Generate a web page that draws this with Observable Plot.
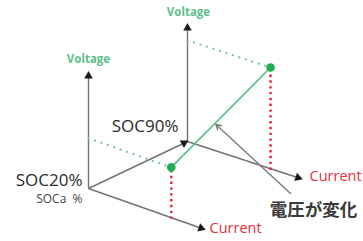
<!DOCTYPE html>
<html><head><meta charset="utf-8">
<script src="https://cdn.jsdelivr.net/npm/d3@7"></script>
<script src="https://cdn.jsdelivr.net/npm/@observablehq/plot@0.6"></script>
<style>html,body{margin:0;padding:0;background:#fff;overflow:hidden}</style>
</head><body><div id="chart"></div>
<script>
// ---- data ----
const socPlanes = ["SOC20%", "SOC90%"];       // front / back planes
const socSubLabel = "SOCa  %";
const currentAt = [0.72, 0.735];              // operating current (fraction of axis)
const voltageAt = [0.437, 0.872];             // resulting voltage (fraction of axis)
const axisNames = ["Voltage", "Current"];
const noteText = "電圧が変化";

// ---- layout (pseudo-3D planes) ----
const planes = [
  {o: [88, 188], u: [115, 40.5], v: [0, -115]},
  {o: [187, 141], u: [113, 37], v: [0, -116]}
];
const P = (i, c, v) => {
  const p = planes[i];
  return {x: p.o[0] + c * p.u[0] + v * p.v[0], y: p.o[1] + c * p.u[1] + v * p.v[1]};
};

const axisSegs = [];
const heads = [];
function addAxis(a, b, rot) {
  axisSegs.push({x1: a.x, y1: a.y, x2: b.x, y2: b.y});
  const dx = b.x - a.x, dy = b.y - a.y, L = Math.hypot(dx, dy);
  const ang = rot ?? (Math.atan2(dy, dx) * 180 / Math.PI + 90);
  heads.push({x: b.x - 2.6 * dx / L, y: b.y - 2.6 * dy / L, rot: ang});
}
planes.forEach((p, i) => {
  addAxis(P(i, 0, 0), P(i, 1, 0));
  addAxis(P(i, 0, 0), P(i, 0, 1));
});
// SOC depth axis
axisSegs.push({x1: planes[0].o[0], y1: planes[0].o[1], x2: planes[1].o[0], y2: planes[1].o[1]});
heads.push({x: planes[1].o[0] - 3.5, y: planes[1].o[1] + 1.5, rot: 180});

const pts = socPlanes.map((s, i) => ({soc: s, ...P(i, currentAt[i], voltageAt[i])}));
const greenDots = socPlanes.map((s, i) => {
  const a = P(i, 0, voltageAt[i]), b = P(i, currentAt[i], voltageAt[i]);
  return {x1: a.x, y1: a.y, x2: b.x, y2: b.y};
});
const redDots = socPlanes.map((s, i) => {
  const a = P(i, currentAt[i], 0), b = P(i, currentAt[i], voltageAt[i]);
  return {x1: a.x, y1: a.y, x2: b.x, y2: b.y};
});
const tip = {x: pts[0].x + 0.45 * (pts[1].x - pts[0].x), y: pts[0].y + 0.45 * (pts[1].y - pts[0].y) + 2};
const pointer = [{x1: 290, y1: 193, x2: tip.x, y2: tip.y}];

const vTop0 = P(0, 0, 1), vTop1 = P(1, 0, 1), cEnd0 = P(0, 1, 0), cEnd1 = P(1, 1, 0);
const greenLabels = [{x: vTop0.x, y: vTop0.y - 14, t: axisNames[0]}, {x: vTop1.x + 1, y: vTop1.y - 13, t: axisNames[0]}];
const redLabels = [{x: cEnd0.x + 6, y: cEnd0.y - 1, t: axisNames[1]}, {x: cEnd1.x + 9, y: cEnd1.y - 2, t: axisNames[1]}];
const socLabels = [
  {x: 82, y: 180.5, t: socPlanes[0]},
  {x: 178, y: 126, t: socPlanes[1]}
];

const grey = "#727272";
const chart = Plot.plot({
  width: 363, height: 241, margin: 0,
  x: {domain: [0, 363], axis: null},
  y: {domain: [241, 0], axis: null},
  style: {background: "#fff", fontFamily: "'Open Sans', sans-serif", overflow: "visible"},
  marks: [
    Plot.link(axisSegs, {x1: "x1", y1: "y1", x2: "x2", y2: "y2", stroke: grey, strokeWidth: 1.4}),
    Plot.dot(heads, {x: "x", y: "y", symbol: "triangle", r: 3.2, fill: "#1a1a1a", rotate: "rot"}),
    Plot.link(greenDots, {x1: "x1", y1: "y1", x2: "x2", y2: "y2", stroke: "#7cc6a0", strokeWidth: 2.3, strokeDasharray: "0.01,6.8", strokeLinecap: "round"}),
    Plot.link(redDots, {x1: "x1", y1: "y1", x2: "x2", y2: "y2", stroke: "#e2263a", strokeWidth: 2.4, strokeDasharray: "0.01,5.8", strokeLinecap: "square"}),
    Plot.link([{x1: pts[0].x, y1: pts[0].y, x2: pts[1].x, y2: pts[1].y}], {x1: "x1", y1: "y1", x2: "x2", y2: "y2", stroke: "#4cbf84", strokeWidth: 1.6}),
    Plot.dot(pts, {x: "x", y: "y", r: 4.3, fill: "#22ad52"}),
    Plot.arrow(pointer, {x1: "x1", y1: "y1", x2: "x2", y2: "y2", stroke: "#7a7a7a", strokeWidth: 1.4, headLength: 6, bend: false}),
    Plot.text(greenLabels, {x: "x", y: "y", text: "t", fill: "#5cbf8a", fontWeight: "bold", fontSize: 11.5}),
    Plot.text(redLabels, {x: "x", y: "y", text: "t", fill: "#e0303a", fontSize: 14.5, textAnchor: "start"}),
    Plot.text(socLabels, {x: "x", y: "y", text: "t", fill: "#2a2a2a", fontSize: 17, textAnchor: "end"}),
    Plot.text([{x: 82, y: 198.5, t: socSubLabel}], {x: "x", y: "y", text: "t", fill: "#444", fontSize: 12, textAnchor: "end"}),
    Plot.text([{x: 313, y: 210, t: noteText}], {x: "x", y: "y", text: "t", fill: "#3a3a3a", fontSize: 17.5, fontWeight: "bold", fontFamily: "'Noto Sans CJK JP', sans-serif"})
  ]
});
document.getElementById("chart").appendChild(chart);
</script>
</body></html>
